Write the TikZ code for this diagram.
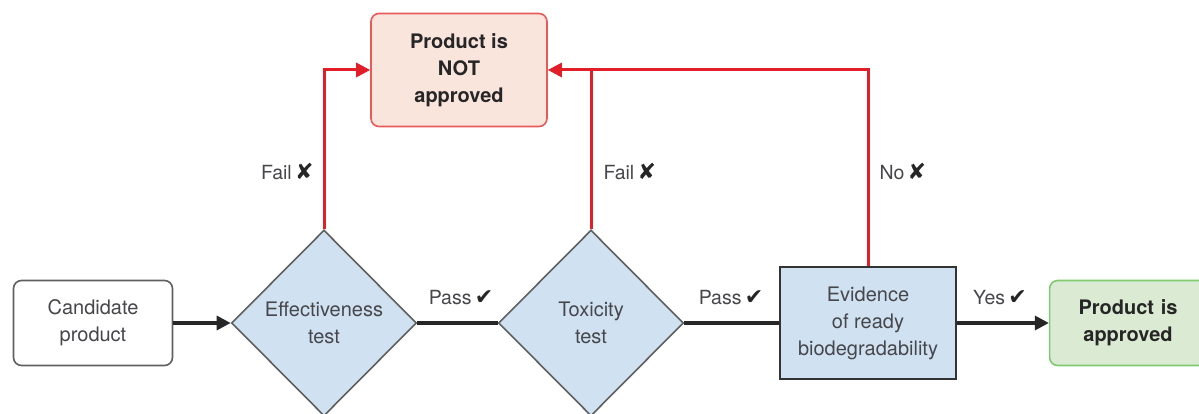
\documentclass[tikz,border=0pt]{standalone}
\usepackage{fontspec}
\setmainfont{TeX Gyre Heros}
\newfontfamily\symfont{DejaVu Sans}
\usetikzlibrary{shapes.geometric,arrows.meta}

\definecolor{testblue}{RGB}{208,226,242}
\definecolor{edgegray}{RGB}{95,95,95}
\definecolor{txtgray}{RGB}{70,70,75}
\definecolor{failred}{RGB}{226,30,40}
\definecolor{failfill}{RGB}{250,229,221}
\definecolor{failedge}{RGB}{232,90,90}
\definecolor{okfill}{RGB}{219,235,211}
\definecolor{okedge}{RGB}{130,200,110}

\newcommand{\yesmark}{{\symfont\fontsize{22}{24}\selectfont\color{black!85}✔}}
\newcommand{\nomark}{{\symfont\fontsize{22}{24}\selectfont\color{black!85}✘}}

\begin{document}
\begin{tikzpicture}[x=1pt, y=-1pt,
	every node/.style={font=\fontsize{20}{27}\selectfont, text=txtgray, align=center},
	startbox/.style={draw=edgegray, line width=1.6pt, rounded corners=8pt, fill=white, minimum width=159pt, minimum height=85pt},
	testdiamond/.style={diamond, draw=edgegray, line width=1.6pt, fill=testblue, minimum width=185pt, minimum height=186pt, inner sep=0pt},
	evidbox/.style={draw=black!80, line width=1.6pt, fill=testblue, minimum width=176pt, minimum height=112pt},
	resultbox/.style={line width=1.6pt, rounded corners=8pt, font=\fontsize{20}{27}\selectfont\bfseries, text=black!85},
	flow/.style={line width=3.2pt, black!85},
	failflow/.style={line width=3pt, failred},
	tip/.style={-{Triangle[length=14pt, width=14pt]}},
	lbl/.style={font=\fontsize{19.5}{24}\selectfont}]
	\useasboundingbox (0,0) rectangle (1199,414);
	\node[startbox] (cand) at (93,323) {Candidate\\product};
	\node[testdiamond] (eff) at (324,323) {Effectiveness\\test};
	\node[testdiamond] (tox) at (591,323) {Toxicity\\test};
	\node[evidbox] (evid) at (868,323) {Evidence\\of ready\\biodegradability};
	\node[resultbox, draw=failedge, fill=failfill, minimum width=176pt, minimum height=113pt] (notok) at (459,70) {Product is\\NOT\\approved};
	\node[resultbox, draw=okedge, fill=okfill, minimum width=156pt, minimum height=85pt, text width=150pt] (ok) at (1128,323) {Product is\\approved};
	\draw[flow, tip] (cand) -- (eff);
	\draw[flow] (eff) -- (tox);
	\draw[flow] (tox) -- (evid);
	\draw[flow, tip] (evid) -- (ok);
	\draw[failflow, tip] (eff.north) |- (notok.west);
	\draw[failflow, tip] (evid.north) |- (notok.east);
	\draw[failflow] (tox.north) -- (tox.north |- notok.east);
	\node[lbl, anchor=east] (fail1) at (317,172) {Fail\,\nomark};
	\node[lbl, anchor=west] (fail2) at (600,172) {Fail\,\nomark};
	\node[lbl, anchor=west] (no1) at (876,172) {No\,\nomark};
	\node[lbl] (pass1) at (461,298) {Pass\,\yesmark};
	\node[lbl] (pass2) at (731,298) {Pass\,\yesmark};
	\node[lbl] (yes1) at (1000,298) {Yes\,\yesmark};
\end{tikzpicture}
\end{document}
